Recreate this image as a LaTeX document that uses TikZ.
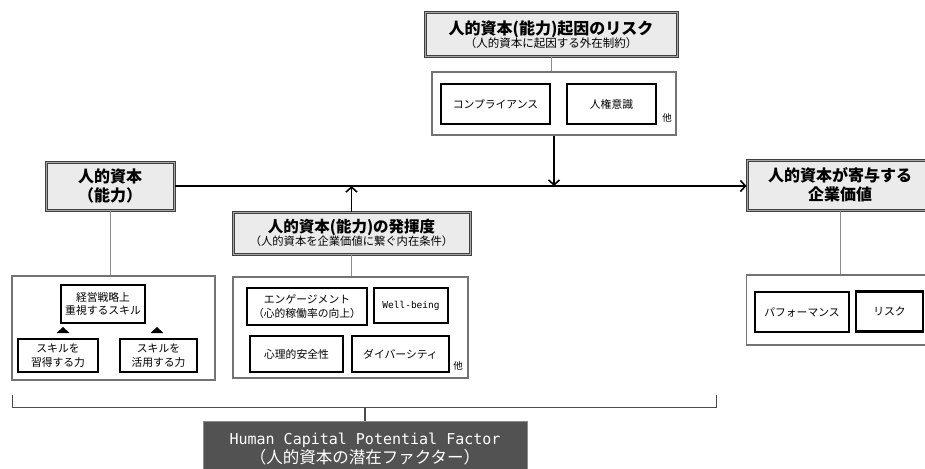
\documentclass[tikz,border=0pt]{standalone}
\usepackage{fontspec}
\setmainfont{Noto Sans CJK JP}
\setmonofont{DejaVu Sans Mono}
\usetikzlibrary{arrows,arrows.meta,shapes}
\tikzstyle{headbox}=[rectangle,draw=black!75,double=black!35,double distance=1pt,line width=1pt,fill=black!8,align=center,inner sep=0pt]
\tikzstyle{groupbox}=[rectangle,draw=black!55,line width=1.1pt,fill=white,inner sep=0pt]
\tikzstyle{itembox}=[rectangle,draw=black,line width=2.4pt,fill=white,align=center,inner sep=0pt,font=\fontsize{10.8}{13.5}\selectfont]
\tikzstyle{factorbox}=[rectangle,draw=black!45,line width=0.8pt,fill=black!68,text=white,align=center,inner sep=0pt]
\tikzstyle{link}=[draw=black!45,line width=0.8pt]
\tikzstyle{edge}=[draw,line width=1.6pt,-{Straight Barb[length=5pt,width=11pt]}]
\tikzstyle{other}=[font=\fontsize{9.5}{11}\selectfont]

\begin{document}
\begin{tikzpicture}[x=1pt,y=-1pt]
    \useasboundingbox (0,0) rectangle (925,468);
    \clip (0,0) rectangle (925,468);

    % heads
    \node[headbox,minimum width=252pt,minimum height=44pt] (risk) at (551,35)
        {{\fontsize{16}{17}\selectfont\bfseries 人的資本(能力)起因のリスク}\\[-1pt]
         {\fontsize{11.5}{13}\selectfont （人的資本に起因する外在制約）}};
    \node[headbox,minimum width=128pt,minimum height=48pt,font=\fontsize{16}{19}\selectfont\bfseries] (cap) at (110,186)
        {人的資本\\（能力）};
    \node[headbox,minimum width=186pt,minimum height=50pt,font=\fontsize{16}{19}\selectfont\bfseries] (value) at (840,185)
        {人的資本が寄与する\\企業価値};
    \node[headbox,minimum width=237pt,minimum height=42pt] (use) at (351.5,233)
        {{\fontsize{15.5}{17}\selectfont\bfseries 人的資本(能力)の発揮度}\\[-1pt]
         {\fontsize{11.3}{13}\selectfont （人的資本を企業価値に繋ぐ内在条件）}};

    % groups
    \foreach \x/\y/\w/\h/\name in {554/103.5/244/63/riskgroup, 113.5/328/203/104/capgroup,
                                   350.5/327.5/235/101/usegroup, 843/310/193/70/valuegroup}
        \node[groupbox,minimum width=\w pt,minimum height=\h pt] (\name) at (\x,\y) {};

    \foreach \head/\group in {risk/riskgroup, cap/capgroup, use/usegroup, value/valuegroup}
        \path[link] (\head.south) -- (\head.south |- \group.north);

    % items
    \foreach \x/\y/\w/\h/\name/\txt in {495.5/104/109/40/comp/コンプライアンス, 611.5/104/89/40/rights/人権意識,
                                        307/306.5/120/37/engage/{エンゲージメント\\（心的稼働率の向上）},
                                        296.5/354/93/36/safety/心理的安全性, 400.5/354/97/36/divers/ダイバーシティ,
                                        802/312/94/40/perf/パフォーマンス, 889.5/311.5/67/40/vrisk/リスク,
                                        103/304/84/38/skill/{経営戦略上\\重視するスキル},
                                        58/355.5/80/33/learn/{スキルを\\習得する力}, 158.5/355.5/77/33/apply/{スキルを\\活用する力}}
        \node[itembox,minimum width=\w pt,minimum height=\h pt] (\name) at (\x,\y) {\txt};
    \node[itembox,minimum width=74pt,minimum height=35pt,font=\ttfamily\fontsize{9.5}{11}\selectfont] (well) at (411,305.5) {Well-being};

    \node[other] (riskmore) at (667,118) {他};
    \node[other] (usemore) at (458,366) {他};

    \foreach \x in {63,157}
        \fill (\x-6.5,333) -- (\x+6.5,333) -- (\x,327) -- cycle;

    % main flow
    \path[edge] (cap.east) -- (cap.east -| value.west);
    \path[edge] (riskgroup.south) -- (riskgroup.south |- cap.east);
    \path[edge] (use.north) -- (use.north |- cap.east);

    % bracket and factor
    \node[factorbox,minimum width=324pt,minimum height=56pt] (factor) at (365,449)
        {{\ttfamily\fontsize{15}{17}\selectfont Human Capital Potential Factor}\\[1pt]
         {\fontsize{16.5}{19}\selectfont （人的資本の潜在ファクター）}};
    \coordinate (bleft) at (12,395);
    \coordinate (bright) at (716,395);
    \coordinate (bmid) at (365,407);
    \draw[black!70,line width=1pt] (bleft) -- (bleft |- bmid) -- (bright |- bmid) -- (bright);
    \draw[black!70,line width=1.2pt] (bmid) -- (factor.north);
\end{tikzpicture}
\end{document}
